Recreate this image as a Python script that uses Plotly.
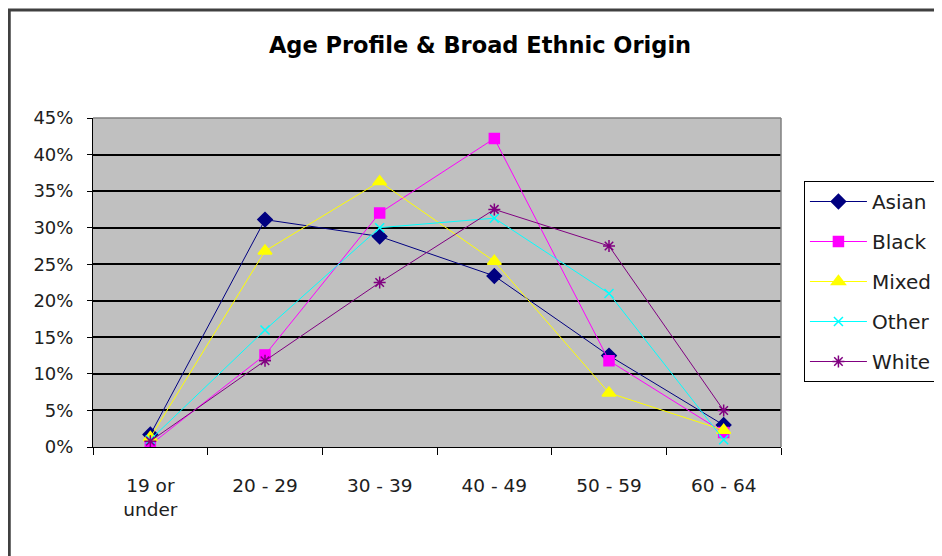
import plotly.graph_objects as go

categories = ["19 or<br>under", "20 - 29", "30 - 39", "40 - 49", "50 - 59", "60 - 64"]
asian = [0.017, 0.311, 0.288, 0.234, 0.125, 0.030]
black = [0.003, 0.126, 0.320, 0.422, 0.118, 0.020]
mixed = [0.013, 0.268, 0.363, 0.254, 0.074, 0.023]
other = [0.010, 0.160, 0.300, 0.313, 0.210, 0.010]
white = [0.008, 0.118, 0.225, 0.325, 0.275, 0.050]
y_ticks = [0, 0.05, 0.10, 0.15, 0.20, 0.25, 0.30, 0.35, 0.40, 0.45]

series = [
    ("Asian", asian, "#000080", "diamond", 11),
    ("Black", black, "#FF00FF", "square", 10),
    ("Mixed", mixed, "#FFFF00", "triangle-up", 12),
    ("Other", other, "#00FFFF", "x-thin-open", 9),
    ("White", white, "#800080", "asterisk-open", 10),
]

FONT = "DejaVu Sans"
# page body has an 8px offset; plot area target: x 93..783, y 118..447 (screen)
OFF = 8
L, T, PW, PH = 93 - OFF, 118 - OFF, 690, 329
W, H = 942, 556

fig = go.Figure()
for name, vals, color, sym, sz in series:
    fig.add_trace(go.Scatter(
        x=categories, y=vals, name=name, mode="lines+markers",
        line=dict(color=color, width=1),
        marker=dict(symbol=sym, size=sz, color=color,
                    line=dict(color=color, width=1.5)),
        legendgroup=name,
    ))

def px_x(sx):
    return (sx - 93) / PW

def px_y(sy):
    return (447 - sy) / PH

fig.update_layout(
    width=W, height=H,
    margin=dict(l=L, r=W - L - PW, t=T, b=H - T - PH),
    paper_bgcolor="white",
    plot_bgcolor="#C0C0C0",
    title=dict(text="<b>Age Profile & Broad Ethnic Origin</b>",
               x=(480 - OFF) / W, xanchor="center",
               y=1 - (45 - OFF) / H, yanchor="middle",
               font=dict(family=FONT, size=22.5, color="black")),
    font=dict(family=FONT, size=18, color="black"),
    showlegend=True,
    legend=dict(
        x=px_x(806), xanchor="left",
        y=px_y(181), yanchor="top",
        bordercolor="black", borderwidth=1, bgcolor="white",
        font=dict(family=FONT, size=20, color="#202020"),
        tracegroupgap=11, itemwidth=57,
    ),
    xaxis=dict(
        type="category", range=[-0.5, 5.5],
        showline=True, linecolor="black", linewidth=1,
        ticks="outside", tickson="boundaries", ticklen=7, tickcolor="black",
        showgrid=False, ticklabelstandoff=22,
        tickfont=dict(family=FONT, size=18.5, color="#202020"),
    ),
    yaxis=dict(
        range=[0, 0.45], tickvals=y_ticks, tickformat=".0%",
        showline=True, linecolor="black", linewidth=1,
        ticks="outside", ticklen=5, tickcolor="black",
        showgrid=True, gridcolor="black", gridwidth=1.5,
        zeroline=False, ticklabelstandoff=10,
        tickfont=dict(family=FONT, size=18, color="#202020"),
    ),
    shapes=[
        dict(type="rect", xref="paper", yref="paper",
             x0=px_x(9), x1=px_x(970),
             y0=px_y(580), y1=px_y(10),
             line=dict(color="#404040", width=3), layer="above"),
        dict(type="line", xref="paper", yref="paper",
             x0=0, x1=1, y0=1, y1=1,
             line=dict(color="#808080", width=1.5), layer="above"),
        dict(type="line", xref="paper", yref="paper",
             x0=1, x1=1, y0=0, y1=1,
             line=dict(color="#808080", width=1.5), layer="above"),
    ],
)

fig.write_html("out.html")
